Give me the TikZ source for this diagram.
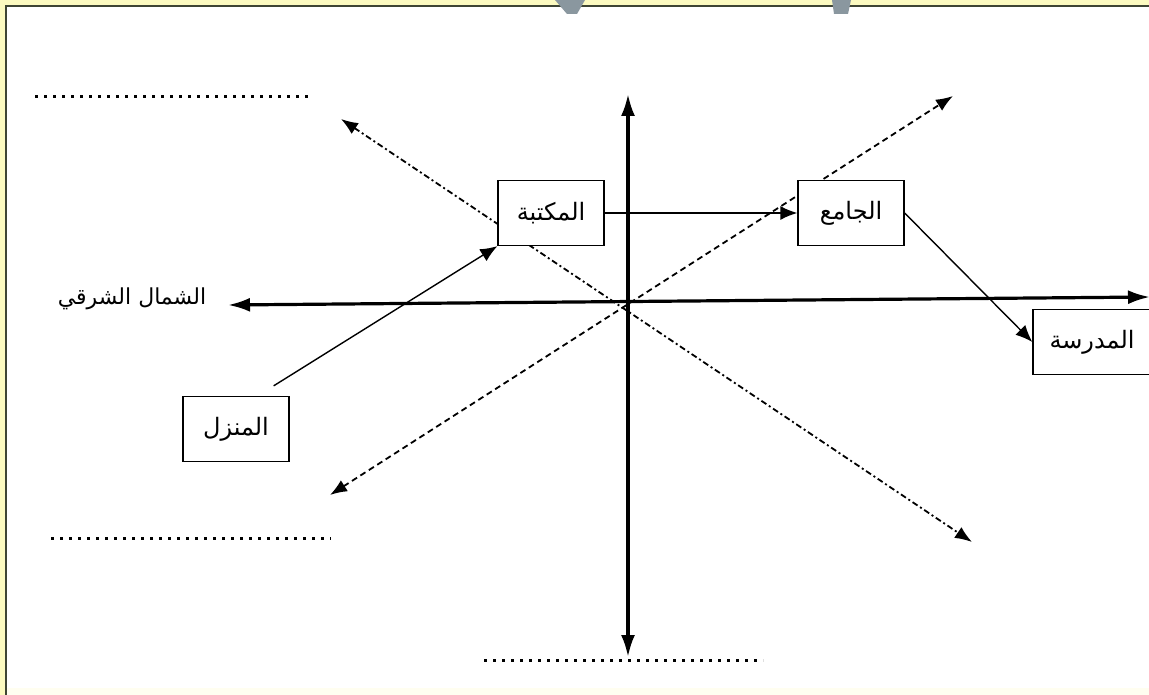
\documentclass[tikz,border=0pt]{standalone}
\usepackage{fontspec}
\newfontfamily\arabicfont[Script=Arabic]{DejaVu Sans}
\TeXXeTstate=1
\usetikzlibrary{arrows.meta}
\definecolor{bgyellow}{HTML}{FCFAC0}
\definecolor{bgpale}{HTML}{FFFEF0}
\definecolor{frameline}{HTML}{3E4434}
\definecolor{wmgray}{HTML}{8A979F}
\tikzset{
  axis/.style={line width=3.2pt, {Latex[length=22pt,width=14pt]}-{Latex[length=22pt,width=14pt]}},
  placebox/.style={draw, line width=1.3pt, fill=white, minimum width=106pt, minimum height=65pt, inner sep=0pt, font=\arabicfont\fontsize{24}{28}\selectfont},
  link/.style={line width=1.4pt, -{Latex[length=17pt,width=14pt]}},
  dashdir/.style={line width=1.8pt, dash pattern=on 6pt off 4pt, {Latex[length=17pt,width=13pt]}-{Latex[length=17pt,width=13pt]}},
  dotdashdir/.style={line width=1.8pt, dash pattern=on 6pt off 3pt on 2pt off 3pt, {Latex[length=17pt,width=13pt]}-{Latex[length=17pt,width=13pt]}},
  blankline/.style={line width=3pt, dash pattern=on 3pt off 6pt},
  lbl/.style={font=\arabicfont\fontsize{22}{26}\selectfont, inner sep=0pt}
}
\begin{document}
\begin{tikzpicture}[x=1pt,y=-1pt]
\useasboundingbox (0,0) rectangle (1149,695);
% background and frame
\fill[bgyellow] (0,0) rectangle (1149,695);
\fill[bgpale] (6,680) rectangle (1149,695);
\fill[white] (6,6) rectangle (1149,688);
\draw[frameline, line width=2.4pt] (6,695) -- (6,6) -- (1149,6);
% watermark fragments
\fill[wmgray] (555,0) -- (585,0) -- (577,14) -- (567,14) -- cycle;
\fill[wmgray] (832,0) -- (851,0) -- (848,14) -- (834,14) -- cycle;

% axes
\coordinate (N) at (628,94);
\coordinate (S) at (628,657);
\coordinate (W) at (228,305);
\coordinate (E) at (1150,297);
\draw[axis] (S) -- (N);
\draw[axis] (W) -- (E);

% diagonals
\coordinate (NE) at (953,96);
\coordinate (SW) at (330,495);
\coordinate (NW) at (341,119);
\coordinate (SE) at (972,542);
\draw[dashdir] (SW) -- (NE);
\draw[dotdashdir] (NW) -- (SE);

% boxes
\node[placebox] (lib) at (551,213) {\beginR المكتبة\endR};
\node[placebox] (mosque) at (851,213) {\beginR الجامع\endR};
\node[placebox] (home) at (236,429) {\beginR المنزل\endR};
\node[placebox, minimum width=118pt] (school) at (1092,342) {\beginR المدرسة\endR};

% route
\path (home.north east) ++(-16,-10) coordinate (homeout);
\draw[link] (homeout) -- (lib.south west);
\draw[link] (lib.east) -- (mosque.west);
\draw[link] (mosque.east) -- (school.west);

% label
\node[lbl] (ne) at (132,299) {\beginR الشمال الشرقي\endR};

% blank lines
\coordinate (b1a) at (35,97);  \coordinate (b1b) at (313,97);
\coordinate (b2a) at (51,538); \coordinate (b2b) at (331,538);
\coordinate (b3a) at (484,660); \coordinate (b3b) at (763,660);
\draw[blankline] (b1a) -- (b1b);
\draw[blankline] (b2a) -- (b2b);
\draw[blankline] (b3a) -- (b3b);
\end{tikzpicture}
\end{document}
